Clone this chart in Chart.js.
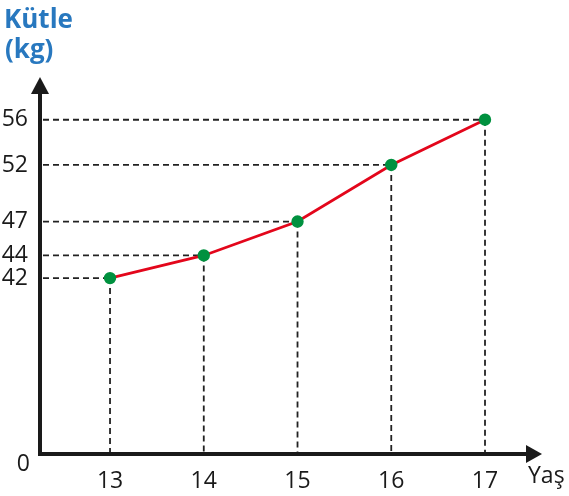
<!DOCTYPE html>
<html>
<head>
<meta charset="utf-8">
<script src="https://cdn.jsdelivr.net/npm/chart.js@4"></script>
<style>
  html, body { margin: 0; padding: 0; background: #fff; }
  #wrap { width: 569px; height: 496px; position: relative; }
</style>
</head>
<body>
<div id="wrap"><canvas id="massChart"></canvas></div>
<script>
var ages = [13, 14, 15, 16, 17];
var masses = [42, 44, 47, 52, 56];
var yTickValues = [42, 44, 47, 52, 56];
var yAxisLabel = ['Kütle', '(kg)'];
var xAxisLabel = 'Yaş';
var originLabel = '0';

// the y axis in the drawing is broken below 42, the bottom is labelled 0
var Y_MIN = 26.36, Y_MAX = 59.07;
var X_MIN = 12.253, X_MAX = 17.608;
var FONT = "'Open Sans', sans-serif";

var guidesAndAxes = {
  id: 'guidesAndAxes',
  beforeDatasetsDraw: function(chart) {
    var ctx = chart.ctx, area = chart.chartArea;
    var xs = chart.scales.x, ys = chart.scales.y;
    ctx.save();
    // dashed guides from each point to the axes
    ctx.strokeStyle = '#222';
    ctx.lineWidth = 1.8;
    ctx.setLineDash([6, 4]);
    ages.forEach(function(a, i) {
      var px = xs.getPixelForValue(a), py = ys.getPixelForValue(masses[i]);
      ctx.beginPath();
      ctx.moveTo(area.left + 3, py);
      ctx.lineTo(px, py);
      ctx.moveTo(px, py);
      ctx.lineTo(px, area.bottom - 2);
      ctx.stroke();
    });
    ctx.setLineDash([]);
    // axes with arrow heads
    ctx.strokeStyle = '#1a1a1a';
    ctx.fillStyle = '#1a1a1a';
    ctx.lineWidth = 4;
    ctx.beginPath();
    ctx.moveTo(area.left, area.bottom);
    ctx.lineTo(area.left, area.top + 2);
    ctx.moveTo(area.left - 2, area.bottom - 1);
    ctx.lineTo(area.right - 10, area.bottom - 1);
    ctx.stroke();
    ctx.beginPath();
    ctx.moveTo(area.left, area.top - 8);
    ctx.lineTo(area.left - 9, area.top + 9);
    ctx.lineTo(area.left + 9, area.top + 9);
    ctx.closePath();
    ctx.fill();
    ctx.beginPath();
    ctx.moveTo(area.right, area.bottom - 1);
    ctx.lineTo(area.right - 16, area.bottom - 10);
    ctx.lineTo(area.right - 16, area.bottom + 8);
    ctx.closePath();
    ctx.fill();
    ctx.restore();
  },
  afterDraw: function(chart) {
    var ctx = chart.ctx, area = chart.chartArea;
    ctx.save();
    ctx.fillStyle = '#2878bf';
    ctx.font = 'bold 26px ' + FONT;
    ctx.textAlign = 'left';
    ctx.textBaseline = 'alphabetic';
    ctx.fillText(yAxisLabel[0], 4, 28);
    ctx.fillText(yAxisLabel[1], 5, 58);
    ctx.fillStyle = '#1a1a1a';
    ctx.font = '23px ' + FONT;
    ctx.fillText(xAxisLabel, 528, 483);
    ctx.textAlign = 'right';
    ctx.fillText(originLabel, area.left - 10, area.bottom + 16);
    ctx.restore();
  }
};

new Chart(document.getElementById('massChart'), {
  type: 'line',
  data: {
    datasets: [{
      data: ages.map(function(a, i) { return { x: a, y: masses[i] }; }),
      borderColor: '#e3061b',
      borderWidth: 2.8,
      backgroundColor: '#00913f',
      pointBackgroundColor: '#00913f',
      pointBorderColor: '#00913f',
      pointRadius: 4.8,
      tension: 0
    }]
  },
  options: {
    responsive: true,
    maintainAspectRatio: false,
    animation: false,
    layout: { padding: { left: 0, right: 27, top: 85, bottom: 0 } },
    scales: {
      x: {
        type: 'linear',
        min: X_MIN,
        max: X_MAX,
        afterBuildTicks: function(scale) {
          scale.ticks = ages.map(function(v) { return { value: v }; });
        },
        afterFit: function(scale) { scale.height = 41; },
        grid: { display: false, drawTicks: false },
        border: { display: false },
        ticks: { color: '#1a1a1a', padding: 13, font: { family: FONT, size: 23 } }
      },
      y: {
        type: 'linear',
        min: Y_MIN,
        max: Y_MAX,
        afterBuildTicks: function(scale) {
          scale.ticks = yTickValues.map(function(v) { return { value: v }; });
        },
        afterFit: function(scale) { scale.width = 40; },
        grid: { display: false, drawTicks: false },
        border: { display: false },
        ticks: { color: '#1a1a1a', padding: 12, font: { family: FONT, size: 23 } }
      }
    },
    plugins: { legend: { display: false }, tooltip: { enabled: false } }
  },
  plugins: [guidesAndAxes]
});
</script>
</body>
</html>
